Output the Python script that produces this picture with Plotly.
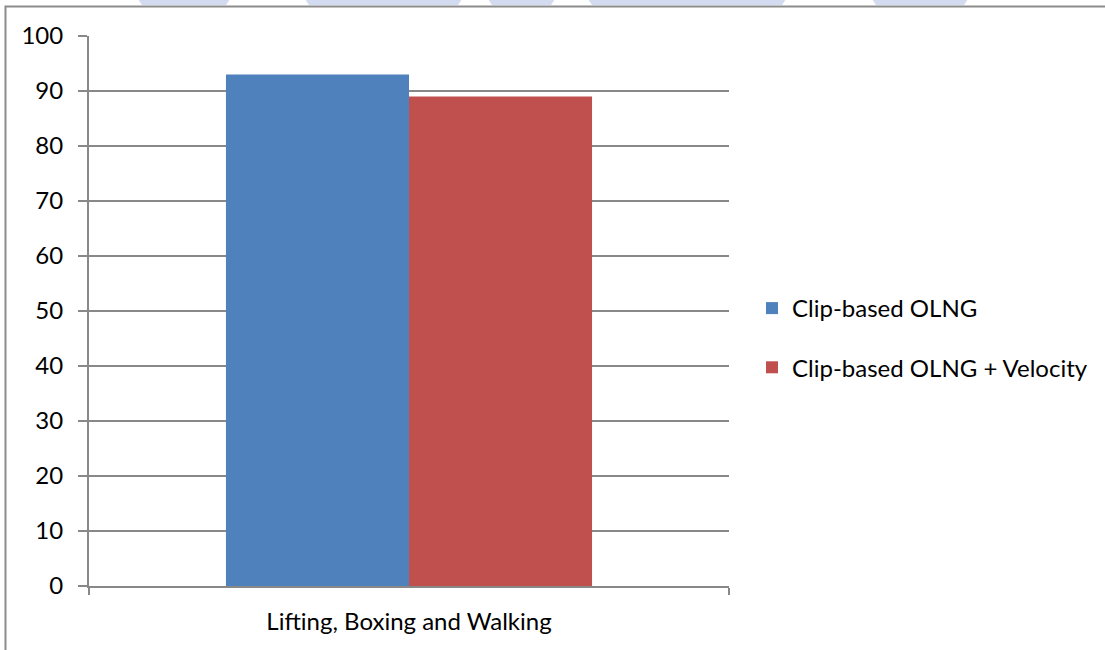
import plotly.graph_objects as go

# Chart data
categories = ["Lifting, Boxing and Walking"]
series_names = ["Clip-based OLNG", "Clip-based OLNG + Velocity"]
clip_olng = [93]
clip_olng_velocity = [89]
y_ticks = [0, 10, 20, 30, 40, 50, 60, 70, 80, 90, 100]

W, H = 1105, 650
L, R, T, B = 89, 376, 36, 64
PW, PH = W - L - R, H - T - B

FONT = "Lato"
FS = 24
GRID = "#888888"


def px_x(x):
    return (x - L) / PW


def px_y(y):
    return (H - B - y) / PH


fig = go.Figure()
fig.add_trace(go.Bar(
    x=categories, y=clip_olng, name=series_names[0],
    marker=dict(color="#4F81BD", line=dict(width=0)),
    legendgroup="a",
))
fig.add_trace(go.Bar(
    x=categories, y=clip_olng_velocity, name=series_names[1],
    marker=dict(color="#C0504D", line=dict(width=0)),
    legendgroup="b",
))

shapes = []
# outer chart border
shapes.append(dict(
    type="rect", xref="paper", yref="paper",
    x0=px_x(5.5), x1=px_x(W + 10), y0=px_y(H + 10), y1=px_y(6.5),
    line=dict(color="#8c8c8c", width=2), fillcolor="rgba(0,0,0,0)", layer="below",
))
# faint band along the top edge
for x0, x1 in [(138, 230), (305, 462), (488, 555), (588, 786), (872, 968)]:
    shapes.append(dict(
        type="path", xref="paper", yref="paper",
        path=(f"M {px_x(x0)},{px_y(-1)} L {px_x(x1)},{px_y(-1)} "
              f"L {px_x(x1 - 4)},{px_y(5)} L {px_x(x0 + 4)},{px_y(5)} Z"),
        line=dict(width=0), fillcolor="rgba(175,190,228,0.55)", layer="above",
    ))

fig.update_layout(
    width=W, height=H,
    margin=dict(l=L, r=R, t=T, b=B, pad=0, autoexpand=False),
    paper_bgcolor="white", plot_bgcolor="white",
    barmode="group", bargap=0.428, bargroupgap=0,
    font=dict(family=FONT, size=FS, color="#000000"),
    showlegend=True,
    legend=dict(
        x=px_x(752), y=px_y(338), xanchor="left", yanchor="middle",
        traceorder="grouped", tracegroupgap=25,
        itemwidth=30, font=dict(family=FONT, size=FS, color="#000000"),
        bgcolor="rgba(0,0,0,0)",
    ),
    xaxis=dict(
        type="category", range=[-0.5, 0.5],
        showline=True, linecolor=GRID, linewidth=2,
        ticks="outside", tickson="boundaries", ticklen=7, tickcolor=GRID, tickwidth=2,
        showgrid=False, tickfont=dict(family=FONT, size=FS),
        ticklabelstandoff=13, fixedrange=True, automargin=False,
    ),
    yaxis=dict(
        range=[0, 100], tickvals=y_ticks,
        showline=True, linecolor=GRID, linewidth=2,
        ticks="outside", ticklen=9, tickcolor=GRID, tickwidth=2,
        showgrid=True, gridcolor=GRID, gridwidth=2,
        zeroline=False, tickfont=dict(family=FONT, size=FS),
        ticklabelstandoff=10, fixedrange=True, automargin=False,
    ),
    shapes=shapes,
)

fig.write_html("out.html")
